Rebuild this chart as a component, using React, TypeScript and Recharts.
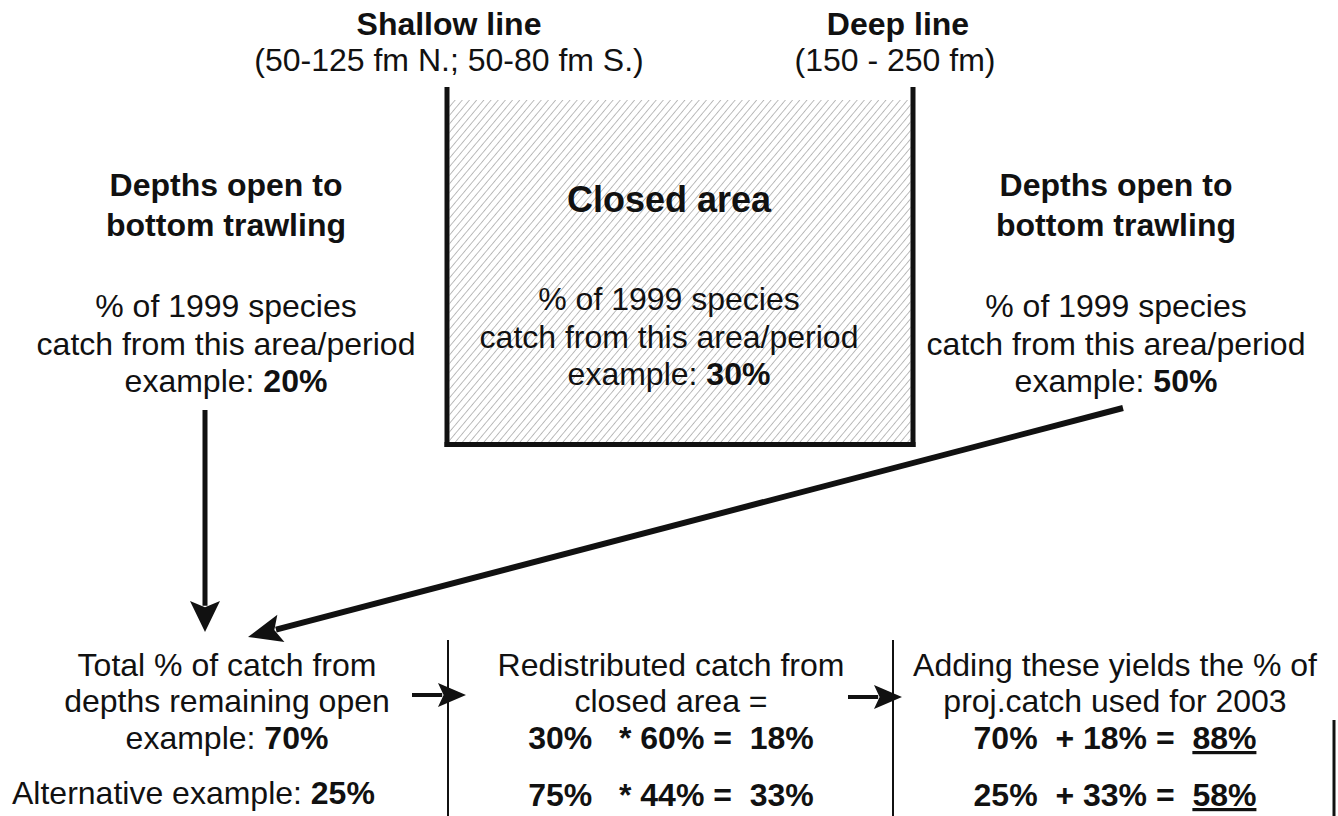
import React from 'react';
import { ComposedChart, XAxis, YAxis, ReferenceLine, ReferenceArea, Scatter } from 'recharts';

// ---------------- data ----------------
const boundaryNames = ['Shallow line', 'Deep line'];
const boundaryDepths = ['(50-125 fm N.; 50-80 fm S.)', '(150 - 250 fm)'];
const openTitle = ['Depths open to', 'bottom trawling'];
const closedTitle = 'Closed area';
const areaDescription = ['% of 1999 species', 'catch from this area/period'];
const areaExamples = [20, 30, 50]; // shallow open, closed, deep open (% of 1999 catch)
const totalOpenLines = ['Total % of catch from', 'depths remaining open'];
const redistLines = ['Redistributed catch from', 'closed area ='];
const addLines = ['Adding these yields the % of', 'proj.catch used for 2003'];
const openShares = [70, 25];
const closedShares = [30, 75];
const redistRates = [60, 44];
const redistributed = [18, 33];
const projected = [88, 58];

// ---------------- layout ----------------
const W = 1338;
const H = 816;
const FONT = '"Liberation Sans", Arial, Helvetica, sans-serif';
const INK = '#111';

type Seg = { t: string; b?: boolean; u?: boolean };
type TItem = { x: number; y: number; size: number; anchor: 'start' | 'middle' | 'end'; segs: Seg[] };

const T = (x: number, y: number, segs: Seg[], size = 32, anchor: TItem['anchor'] = 'middle'): TItem => ({ x, y, size, anchor, segs });

const colL = 226;
const colC = 669;
const colR = 1116;
const bL = 227;
const bM = 671;
const bR = 1115;
const rows = [676, 712, 749, 806];

const textItems: TItem[] = [
  T(449, 35, [{ t: boundaryNames[0], b: true }]),
  T(449, 71, [{ t: boundaryDepths[0] }]),
  T(898, 35, [{ t: boundaryNames[1], b: true }]),
  T(895, 71, [{ t: boundaryDepths[1] }]),

  T(colL, 196, [{ t: openTitle[0], b: true }]),
  T(colL, 236, [{ t: openTitle[1], b: true }]),
  T(colL, 317, [{ t: areaDescription[0] }]),
  T(colL, 355, [{ t: areaDescription[1] }]),
  T(colL, 392, [{ t: 'example: ' }, { t: `${areaExamples[0]}%`, b: true }]),

  T(colC, 212, [{ t: closedTitle, b: true }], 36),
  T(colC, 310, [{ t: areaDescription[0] }]),
  T(colC, 348, [{ t: areaDescription[1] }]),
  T(colC, 385, [{ t: 'example: ' }, { t: `${areaExamples[1]}%`, b: true }]),

  T(colR, 196, [{ t: openTitle[0], b: true }]),
  T(colR, 236, [{ t: openTitle[1], b: true }]),
  T(colR, 317, [{ t: areaDescription[0] }]),
  T(colR, 355, [{ t: areaDescription[1] }]),
  T(colR, 392, [{ t: 'example: ' }, { t: `${areaExamples[2]}%`, b: true }]),

  T(bL, rows[0], [{ t: totalOpenLines[0] }]),
  T(bL, rows[1], [{ t: totalOpenLines[1] }]),
  T(bL, rows[2], [{ t: 'example: ' }, { t: `${openShares[0]}%`, b: true }]),
  T(12, rows[3] - 2, [{ t: 'Alternative example: ' }, { t: `${openShares[1]}%`, b: true }], 32, 'start'),

  T(bM, rows[0], [{ t: redistLines[0] }]),
  T(bM, rows[1], [{ t: redistLines[1] }]),
  T(bM, rows[2], [{ t: `${closedShares[0]}%   * ${redistRates[0]}% =  ${redistributed[0]}%`, b: true }]),
  T(bM, rows[3], [{ t: `${closedShares[1]}%   * ${redistRates[1]}% =  ${redistributed[1]}%`, b: true }]),

  T(bR, rows[0], [{ t: addLines[0] }]),
  T(bR, rows[1], [{ t: addLines[1] }]),
  T(bR, rows[2], [{ t: `${openShares[0]}%  + ${redistributed[0]}% =  `, b: true }, { t: `${projected[0]}%`, b: true, u: true }]),
  T(bR, rows[3], [{ t: `${openShares[1]}%  + ${redistributed[1]}% =  `, b: true }, { t: `${projected[1]}%`, b: true, u: true }]),
];

// arrows: start -> tip
type Arrow = { x1: number; y1: number; x2: number; y2: number; w: number; len: number; hw: number };
const arrows: Arrow[] = [
  { x1: 205, y1: 410, x2: 205, y2: 632, w: 5, len: 31, hw: 15 },
  { x1: 1123, y1: 408, x2: 248, y2: 637, w: 6, len: 34, hw: 14 },
  { x1: 412, y1: 695, x2: 466, y2: 695, w: 4, len: 28, hw: 12 },
  { x1: 848, y1: 697, x2: 902, y2: 697, w: 4, len: 28, hw: 12 },
];

const arrowGeom = arrows.map((a) => {
  const dx = a.x2 - a.x1;
  const dy = a.y2 - a.y1;
  const L = Math.sqrt(dx * dx + dy * dy);
  const ux = dx / L;
  const uy = dy / L;
  return {
    shaft: [
      { x: a.x1, y: a.y1 },
      { x: a.x2 - ux * a.len * 0.85, y: a.y2 - uy * a.len * 0.85 },
    ],
    head: { x: a.x2, y: a.y2, angle: (Math.atan2(dy, dx) * 180) / Math.PI, len: a.len, hw: a.hw },
    w: a.w,
  };
});
const heads = arrowGeom.map((g) => g.head);

// box and separators
const box = { x1: 447, x2: 913, top: 87, bottom: 447, lw: 5 };
const separators = [
  { x: 448, y1: 640, y2: 816, w: 2 },
  { x: 893, y1: 640, y2: 816, w: 2 },
  { x: 1334, y1: 720, y2: 816, w: 3 },
];

const TextShape = (p: any) => {
  const d = p.payload as TItem;
  return (
    <text
      x={p.cx}
      y={p.cy}
      textAnchor={d.anchor}
      fontFamily={FONT}
      fontSize={d.size}
      fill={INK}
      xmlSpace="preserve"
      style={{ whiteSpace: 'pre' }}
    >
      {d.segs.map((s, i) => (
        <tspan key={i} fontWeight={s.b ? 700 : 400} textDecoration={s.u ? 'underline' : undefined}>
          {s.t}
        </tspan>
      ))}
    </text>
  );
};

const HeadShape = (p: any) => {
  const d = p.payload;
  const a = (d.angle * Math.PI) / 180;
  const c = Math.cos(a);
  const s = Math.sin(a);
  const pt = (lx: number, ly: number) => `${p.cx + lx * c - ly * s},${p.cy + lx * s + ly * c}`;
  return <polygon points={[pt(0, 0), pt(-d.len, -d.hw), pt(-d.len * 0.8, 0), pt(-d.len, d.hw)].join(' ')} fill={INK} />;
};

export default function App() {
  return (
    <div style={{ position: 'absolute', left: 0, top: 0, width: W, height: H, background: '#fff' }}>
      <ComposedChart width={W} height={H} margin={{ top: 0, right: 0, bottom: 0, left: 0 }}>
        <defs>
          <pattern id="hatch" width="5.5" height="5.5" patternUnits="userSpaceOnUse" patternTransform="rotate(40)">
            <line x1="0" y1="0" x2="0" y2="5.5" stroke="#7a7a7a" strokeWidth="1" />
          </pattern>
        </defs>
        <XAxis type="number" dataKey="x" domain={[0, W]} hide allowDataOverflow />
        <YAxis type="number" dataKey="y" domain={[0, H]} reversed hide allowDataOverflow />

        <ReferenceArea
          x1={box.x1 + 2.5}
          x2={box.x2 - 2.5}
          y1={100}
          y2={box.bottom - 4}
          fill="url(#hatch)"
          fillOpacity={1}
          stroke="none"
        />
        <ReferenceLine segment={[{ x: box.x1, y: box.top }, { x: box.x1, y: box.bottom }]} stroke={INK} strokeWidth={box.lw} />
        <ReferenceLine segment={[{ x: box.x2, y: box.top }, { x: box.x2, y: box.bottom }]} stroke={INK} strokeWidth={box.lw} />
        <ReferenceLine
          segment={[{ x: box.x1 - 2.5, y: box.bottom - 2.5 }, { x: box.x2 + 2.5, y: box.bottom - 2.5 }]}
          stroke={INK}
          strokeWidth={box.lw}
        />

        {separators.map((s, i) => (
          <ReferenceLine key={`sep${i}`} segment={[{ x: s.x, y: s.y1 }, { x: s.x, y: s.y2 }]} stroke={INK} strokeWidth={s.w} />
        ))}

        {arrowGeom.map((g, i) => (
          <ReferenceLine key={`arr${i}`} segment={g.shaft as any} stroke={INK} strokeWidth={g.w} />
        ))}

        <Scatter data={heads} shape={HeadShape} isAnimationActive={false} />
        <Scatter data={textItems} shape={TextShape} isAnimationActive={false} />
      </ComposedChart>
    </div>
  );
}
